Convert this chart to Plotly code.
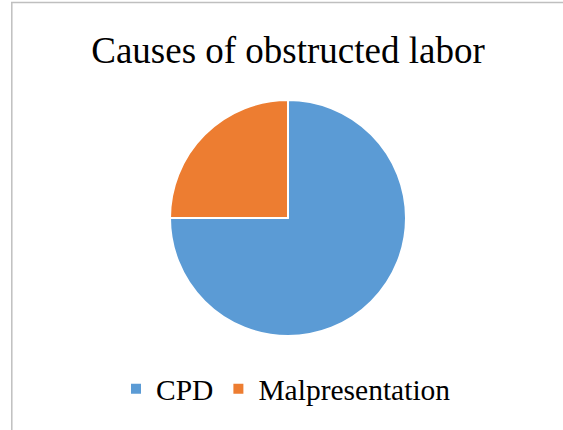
import plotly.graph_objects as go

W, H = 563, 430

labels = ["CPD", "Malpresentation"]
values = [75, 25]
colors = ["#5B9BD5", "#ED7D31"]
title_text = "Causes of obstructed labor"

cx, cy, r = 288, 218, 118

fig = go.Figure(go.Pie(
    labels=labels,
    values=values,
    sort=False,
    direction="clockwise",
    rotation=0,
    textinfo="none",
    hoverinfo="label+percent",
    marker=dict(colors=colors, line=dict(color="white", width=2)),
    domain=dict(x=[(cx - r) / W, (cx + r) / W], y=[1 - (cy + r) / H, 1 - (cy - r) / H]),
))

fig.update_layout(
    width=W, height=H,
    margin=dict(l=0, r=0, t=0, b=0),
    paper_bgcolor="white",
    plot_bgcolor="white",
    font=dict(family="Liberation Serif, Times New Roman, serif", color="black"),
    title=dict(text=title_text, x=288 / W, xanchor="center", y=1 - 50 / H, yanchor="middle",
               font=dict(size=37, family="Liberation Serif", color="black")),
    showlegend=True,
    legend=dict(orientation="h", x=116 / W, xanchor="left", y=1 - 389 / H, yanchor="middle",
                font=dict(size=29.5, family="Liberation Serif", color="black"),
                bgcolor="rgba(0,0,0,0)", traceorder="normal"),
    shapes=[
        dict(type="line", xref="paper", yref="paper", x0=11 / W, x1=1, y0=1 - 2.5 / H, y1=1 - 2.5 / H,
             line=dict(color="#BFBFBF", width=1.5)),
        dict(type="line", xref="paper", yref="paper", x0=11.8 / W, x1=11.8 / W, y0=0, y1=1 - 2 / H,
             line=dict(color="#BFBFBF", width=1.5)),
    ],
)

fig.write_html("out.html")
